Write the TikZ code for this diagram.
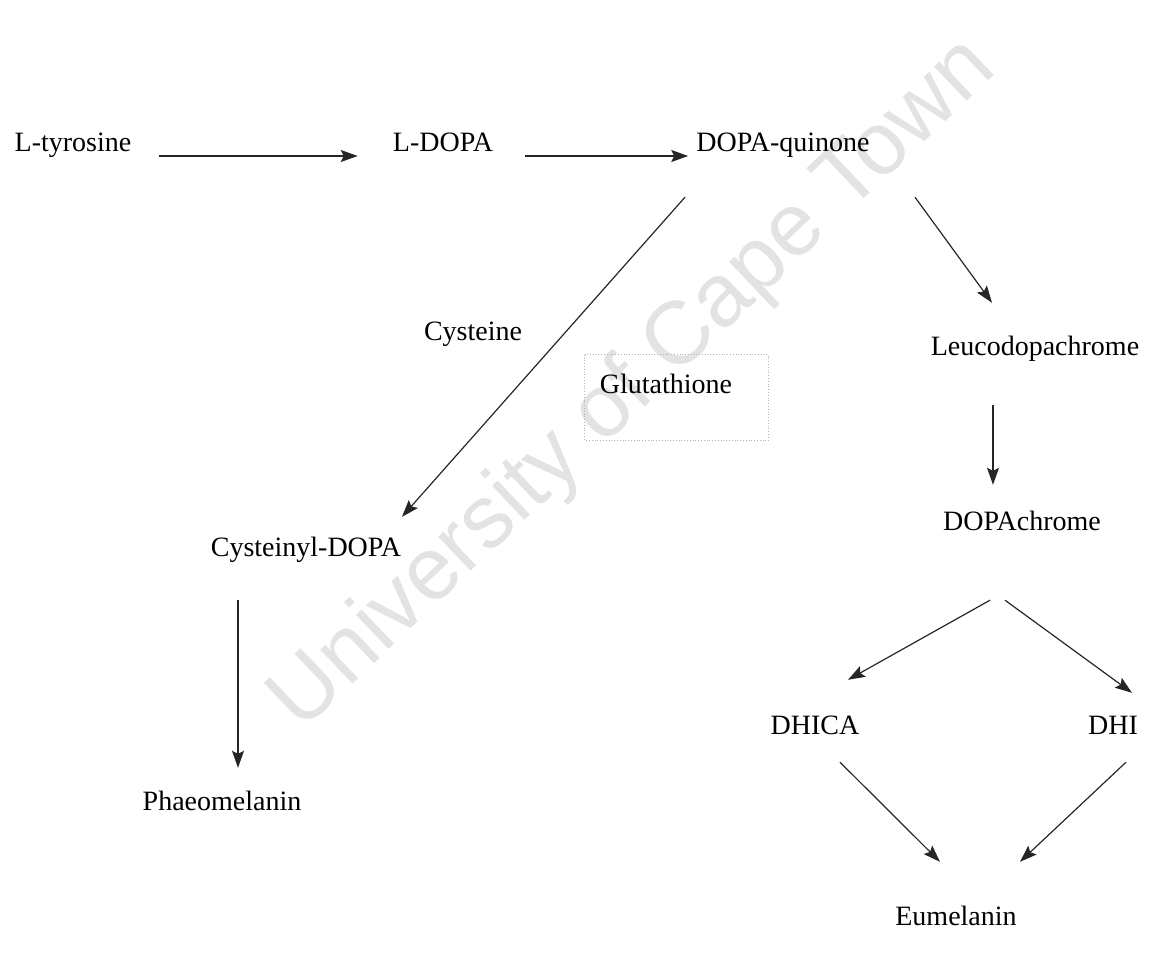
\documentclass[tikz,border=0pt]{standalone}
\usepackage{fontspec}
\setmainfont{Liberation Serif}
\newfontfamily\wmfont{Liberation Sans}
\usepackage{tikz}
\usetikzlibrary{positioning,calc,arrows.meta}

\begin{document}
\begin{tikzpicture}[x=1pt, y=-1pt,
  compound/.style={inner sep=0pt, anchor=base, text height=19pt, text depth=6pt,
    font=\fontsize{28}{32}\selectfont},
  reaction/.style={draw=black!85, line width=1.2pt, -{Stealth[length=17pt, width=12pt, inset=3pt]}},
  stamp/.style={color=black!11, anchor=base, rotate=43.5, inner sep=0pt,
    font=\wmfont\fontsize{89}{96}\selectfont},
  gbox/.style={draw=gray!60, dotted, line width=0.8pt}
  ]
  \useasboundingbox (0,0) rectangle (1151,955);

  % watermark
  \node[stamp] (wm) at (650,402) {University of Cape Town};

  \node[compound] (tyr) at (73,152) {L-tyrosine};
  \node[compound] (ldopa) at (443,152) {L-DOPA};
  \node[compound] (dq) at (783,152) {DOPA-quinone};
  \node[compound] (cys) at (473,340) {Cysteine};
  \node[compound] (glut) at (666,393) {Glutathione};
  \node[compound] (leuco) at (1035,355) {Leucodopachrome};
  \node[compound] (dopac) at (1022,530) {DOPAchrome};
  \node[compound] (cysd) at (306,556) {Cysteinyl-DOPA};
  \node[compound] (phaeo) at (222,810) {Phaeomelanin};
  \node[compound] (dhica) at (815,734) {DHICA};
  \node[compound] (dhi) at (1113,734) {DHI};
  \node[compound] (eumel) at (956,925) {Eumelanin};

  \draw[gbox] ([shift={(-15,-19)}]glut.north west) rectangle ([shift={(36,41)}]glut.south east);

  \draw[reaction, shorten <=27pt, shorten >=35pt] ([yshift=-4pt]tyr.base east) -- ([yshift=-4pt]ldopa.base west);
  \draw[reaction, shorten <=32pt, shorten >=8pt] ([yshift=-4pt]ldopa.base east) -- ([yshift=-4pt]dq.base west);
  \draw[reaction] ([shift={(-98,39)}]dq.south) -- ([shift={(96,-20)}]cysd.north);
  \draw[reaction] ([shift={(132,39)}]dq.south) -- ([shift={(-43,-33)}]leuco.north);
  \draw[reaction] ([shift={(-42,44)}]leuco.south) -- ([shift={(-29,-26)}]dopac.north);
  \draw[reaction] ([shift={(-68,38)}]cysd.south) -- ([shift={(16,-23)}]phaeo.north);
  \draw[reaction] ([shift={(-32,64)}]dopac.south) -- ([shift={(33,-35)}]dhica.north);
  \draw[reaction] ([shift={(-17,64)}]dopac.south) -- ([shift={(19,-22)}]dhi.north);
  \draw[reaction] ([shift={(25,22)}]dhica.south) -- ([shift={(-16,-44)}]eumel.north);
  \draw[reaction] ([shift={(13,22)}]dhi.south) -- ([shift={(64,-44)}]eumel.north);

\end{tikzpicture}
\end{document}
